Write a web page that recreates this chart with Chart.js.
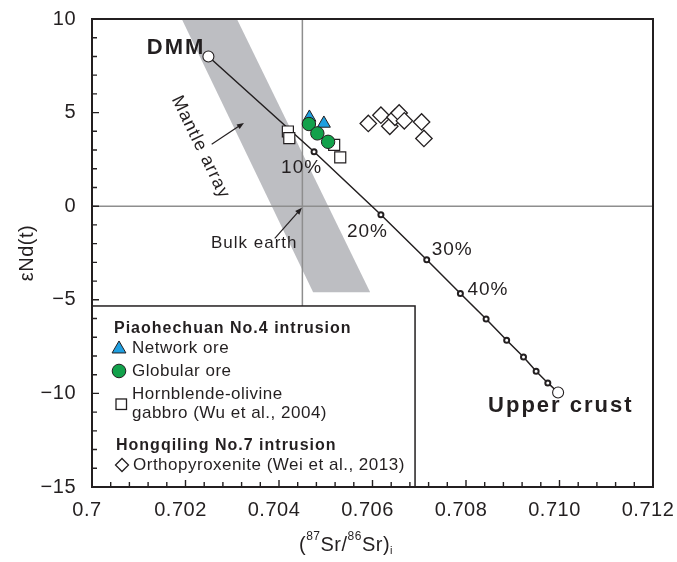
<!DOCTYPE html>
<html>
<head>
<meta charset="utf-8">
<script src="https://cdn.jsdelivr.net/npm/chart.js@4.4.1/dist/chart.umd.min.js"></script>
<style>
  html, body { margin: 0; padding: 0; background: #fff; }
</style>
</head>
<body>
<canvas id="myChart" width="677" height="562"></canvas>
<script>
const FONT = '"Liberation Sans", Arial, Helvetica, sans-serif';
const INK = '#231f20';

// axis ticks
const xTickValues = [0.7, 0.702, 0.704, 0.706, 0.708, 0.710, 0.712];
const xTickLabels = ['0.7', '0.702', '0.704', '0.706', '0.708', '0.710', '0.712'];
const yTickValues = [-15, -10, -5, 0, 5, 10];
const yTickLabels = ['\u221215', '\u221210', '\u22125', '0', '5', '10'];

// Piaohechuan No.4 intrusion
const networkX = [0.70465, 0.70496];
const networkY = [4.74, 4.42];
const globularX = [0.70464, 0.70482, 0.70505];
const globularY = [4.39, 3.89, 3.44];
const gabbroX = [0.70419, 0.70422, 0.70518, 0.70531];
const gabbroY = [3.99, 3.64, 3.28, 2.61];

// Hongqiling No.7 intrusion
const opxX = [0.70591, 0.70618, 0.70637, 0.70648, 0.70657, 0.70668, 0.70705, 0.70710];
const opxY = [4.42, 4.86, 4.27, 4.75, 4.98, 4.56, 4.50, 3.62];

// DMM - upper crust mixing curve
const mixX = [0.70249, 0.70475, 0.70618, 0.70716, 0.70788, 0.70843, 0.70887, 0.70923, 0.70950, 0.70975, 0.70997];
const mixY = [8.0, 2.91, -0.46, -2.86, -4.66, -6.03, -7.16, -8.05, -8.82, -9.44, -9.95];
const mixLabels = ['DMM', '10%', '20%', '30%', '40%', '', '', '', '', '', 'Upper crust'];

// mantle array band
const bandX = [0.70192, 0.70310, 0.70595, 0.70473, 0.70192];
const bandY = [10, 10, -4.6, -4.6, 10];

// bulk earth
const bulkSr = 0.7045;
const bulkNd = 0;

const pts = (xs, ys) => xs.map((x, i) => ({ x: x, y: ys[i] }));

function arrow(ctx, x1, y1, x2, y2) {
  const a = Math.atan2(y2 - y1, x2 - x1);
  const h = 7, w = 2.8;
  ctx.beginPath();
  ctx.moveTo(x1, y1);
  ctx.lineTo(x2 - Math.cos(a) * h * 0.7, y2 - Math.sin(a) * h * 0.7);
  ctx.stroke();
  ctx.beginPath();
  ctx.moveTo(x2, y2);
  ctx.lineTo(x2 - h * Math.cos(a) + w * Math.sin(a), y2 - h * Math.sin(a) - w * Math.cos(a));
  ctx.lineTo(x2 - h * Math.cos(a) - w * Math.sin(a), y2 - h * Math.sin(a) + w * Math.cos(a));
  ctx.closePath();
  ctx.fill();
}

const decor = {
  id: 'decor',
  beforeDraw(chart) {
    chart.ctx.letterSpacing = '0.5px';
  },
  afterDatasetsDraw(chart) {
    const ctx = chart.ctx, xs = chart.scales.x, ys = chart.scales.y, ca = chart.chartArea;
    const P = (x, y) => [xs.getPixelForValue(x), ys.getPixelForValue(y)];
    ctx.save();
    ctx.fillStyle = INK;
    ctx.strokeStyle = INK;
    ctx.textBaseline = 'middle';

    // end members
    ctx.font = 'bold 22px ' + FONT;
    ctx.letterSpacing = '2px';
    let [x0, y0] = P(mixX[0], mixY[0]);
    ctx.textAlign = 'right';
    ctx.fillText(mixLabels[0], x0 - 3, y0 - 9);
    const last = mixX.length - 1;
    [x0, y0] = P(mixX[last], mixY[last]);
    ctx.textAlign = 'left';
    ctx.fillText(mixLabels[last], x0 - 70, y0 + 13);

    // percentages
    ctx.font = '19px ' + FONT;
    ctx.letterSpacing = '1px';
    const offs = { 1: [-33, 16], 2: [-34, 17], 3: [5, -10], 4: [7, -3.5] };
    for (const k in offs) {
      [x0, y0] = P(mixX[k], mixY[k]);
      ctx.fillText(mixLabels[k], x0 + offs[k][0], y0 + offs[k][1]);
    }

    // mantle array label
    const [bx1, by1] = P(bandX[1], bandY[1]);
    const [bx2, by2] = P(bandX[2], bandY[2]);
    const ang = Math.atan2(by2 - by1, bx2 - bx1);
    [x0, y0] = P(0.70232, 3.15);
    ctx.save();
    ctx.translate(x0, y0);
    ctx.rotate(ang);
    ctx.textAlign = 'center';
    ctx.font = '18px ' + FONT;
    ctx.fillText('Mantle array', 0, 0);
    ctx.restore();
    ctx.lineWidth = 1.2;
    let a = P(0.70256, 3.31), b = P(0.70325, 4.45);
    arrow(ctx, a[0], a[1], b[0], b[1]);

    // bulk earth label
    ctx.font = '17px ' + FONT;
    ctx.textAlign = 'center';
    [x0, y0] = P(0.70347, -1.97);
    ctx.fillText('Bulk earth', x0, y0);
    a = P(0.70391, -1.72); b = P(0.70449, -0.08);
    arrow(ctx, a[0], a[1], b[0], b[1]);

    // legend box
    const [rx, ty] = P(0.70691, -5.33);
    const L = ca.left, T = ty;
    ctx.fillStyle = '#fff';
    ctx.fillRect(L, T, rx - L, ca.bottom - T);
    ctx.lineWidth = 1.5;
    ctx.strokeStyle = INK;
    ctx.strokeRect(L, T, rx - L, ca.bottom - T);

    ctx.fillStyle = INK;
    ctx.textAlign = 'left';
    ctx.font = 'bold 16px ' + FONT;
    ctx.letterSpacing = '1px';
    ctx.fillText('Piaohechuan No.4 intrusion', L + 22, T + 23);
    ctx.fillText('Hongqiling No.7 intrusion', L + 24, T + 140);
    ctx.font = '17px ' + FONT;
    ctx.letterSpacing = '0.5px';
    ctx.fillText('Network ore', L + 40, T + 42);
    ctx.fillText('Globular ore', L + 40, T + 65);
    ctx.fillText('Hornblende-olivine', L + 40, T + 88);
    ctx.fillText('gabbro (Wu et al., 2004)', L + 40, T + 107);
    ctx.fillText('Orthopyroxenite (Wei et al., 2013)', L + 41, T + 159);

    ctx.lineWidth = 1;
    // triangle
    let cx = L + 27, cy = T + 43, r = 8;
    ctx.beginPath();
    ctx.moveTo(cx, cy - r);
    ctx.lineTo(cx + r * 0.866, cy + r * 0.5);
    ctx.lineTo(cx - r * 0.866, cy + r * 0.5);
    ctx.closePath();
    ctx.fillStyle = '#1f9fe0';
    ctx.fill(); ctx.stroke();
    // circle
    cx = L + 27; cy = T + 65;
    ctx.beginPath();
    ctx.arc(cx, cy, 6.8, 0, Math.PI * 2);
    ctx.fillStyle = '#12a14b';
    ctx.fill(); ctx.stroke();
    // square
    ctx.lineWidth = 1.3;
    ctx.fillStyle = '#fff';
    ctx.fillRect(L + 24, T + 93, 10.5, 10.5);
    ctx.strokeRect(L + 24, T + 93, 10.5, 10.5);
    // diamond
    cx = L + 30; cy = T + 159; r = 6.5;
    ctx.beginPath();
    ctx.moveTo(cx, cy - r); ctx.lineTo(cx + r, cy); ctx.lineTo(cx, cy + r); ctx.lineTo(cx - r, cy);
    ctx.closePath();
    ctx.fill(); ctx.stroke();
    ctx.restore();
  },
  afterDraw(chart) {
    const ctx = chart.ctx, xs = chart.scales.x, ys = chart.scales.y, ca = chart.chartArea;
    ctx.save();
    ctx.strokeStyle = INK;
    ctx.lineWidth = 1.4;
    ctx.beginPath();
    for (let k = 0; k <= 30; k++) {
      const x = xs.getPixelForValue(0.7 + k * 0.0004);
      const len = k % 5 === 0 ? 7 : 5;
      ctx.moveTo(x, ca.bottom);
      ctx.lineTo(x, ca.bottom - len);
    }
    for (let k = -15; k <= 10; k++) {
      const y = ys.getPixelForValue(k);
      const len = k % 5 === 0 ? 7 : 5;
      ctx.moveTo(ca.left, y);
      ctx.lineTo(ca.left + len, y);
    }
    ctx.stroke();
    ctx.lineWidth = 2;
    ctx.strokeRect(ca.left, ca.top, ca.right - ca.left, ca.bottom - ca.top);

    // x axis title with super/subscripts
    const parts = [
      ['(', 20, 0], ['87', 12, -8], ['Sr/', 20, 0], ['86', 12, -8], ['Sr)', 20, 0], ['i', 11, 6]
    ];
    ctx.letterSpacing = '0.5px';
    let total = 0;
    for (const p of parts) { ctx.font = p[1] + 'px ' + FONT; total += ctx.measureText(p[0]).width; }
    let x = 346 - total / 2;
    const y = 545;
    ctx.fillStyle = INK;
    ctx.textBaseline = 'middle';
    ctx.textAlign = 'left';
    for (const p of parts) {
      ctx.font = p[1] + 'px ' + FONT;
      ctx.fillText(p[0], x, y + p[2]);
      x += ctx.measureText(p[0]).width;
    }
    ctx.restore();
  }
};

Chart.defaults.font.family = FONT;
Chart.defaults.color = INK;

const data = {
  datasets: [
    {
      label: 'Globular ore',
      data: pts(globularX, globularY),
      pointStyle: 'circle', pointRadius: 6.7,
      backgroundColor: '#12a14b', borderColor: INK, borderWidth: 1,
      order: 0
    },
    {
      label: 'Network ore',
      data: pts(networkX, networkY),
      pointStyle: 'triangle', pointRadius: 7.5,
      backgroundColor: '#1f9fe0', borderColor: INK, borderWidth: 1,
      order: 1
    },
    {
      label: 'Hornblende-olivine gabbro',
      data: pts(gabbroX, gabbroY),
      pointStyle: 'rect', pointRadius: 7.8,
      backgroundColor: '#fff', borderColor: INK, borderWidth: 1.2,
      order: 2
    },
    {
      label: 'Orthopyroxenite',
      data: pts(opxX, opxY),
      pointStyle: 'rectRot', pointRadius: 8.2,
      backgroundColor: '#fff', borderColor: INK, borderWidth: 1.3,
      order: 3
    },
    {
      type: 'line',
      label: 'Mixing',
      data: pts(mixX, mixY),
      borderColor: INK, borderWidth: 1.5,
      pointRadius: mixX.map((v, i) => (i === 0 || i === mixX.length - 1) ? 5.5 : 2.5),
      pointBorderWidth: mixX.map((v, i) => (i === 0 || i === mixX.length - 1) ? 1.1 : 2),
      pointBackgroundColor: '#fff', pointBorderColor: INK,
      tension: 0, order: 4
    },
    {
      type: 'line',
      label: 'Bulk earth Sr',
      data: [{ x: bulkSr, y: 10 }, { x: bulkSr, y: -15 }],
      borderColor: '#8e8e8e', borderWidth: 1.5, pointRadius: 0,
      order: 5
    },
    {
      type: 'line',
      label: 'Bulk earth Nd',
      data: [{ x: 0.7, y: bulkNd }, { x: 0.712, y: bulkNd }],
      borderColor: '#8e8e8e', borderWidth: 1.5, pointRadius: 0,
      order: 5
    },
    {
      type: 'line',
      label: 'Mantle array',
      data: pts(bandX, bandY),
      fill: 'shape',
      backgroundColor: '#bdbec2', borderColor: '#bdbec2', borderWidth: 0,
      pointRadius: 0, order: 6
    }
  ]
};

const config = {
  type: 'scatter',
  data,
  options: {
    responsive: false,
    animation: false,
    layout: { padding: 0 },
    plugins: {
      legend: { display: false },
      tooltip: { enabled: false }
    },
    scales: {
      x: {
        type: 'linear', min: 0.7, max: 0.712,
        afterBuildTicks: s => { s.ticks = xTickValues.map(v => ({ value: v })); },
        afterFit: s => { s.height = 75; s.paddingLeft = 0; s.paddingRight = 24; },
        ticks: {
          callback: (v, i) => xTickLabels[i],
          font: { size: 20 }, color: INK, padding: 11, labelOffset: -5,
          maxRotation: 0, autoSkip: false
        },
        grid: { display: false, drawTicks: false },
        border: { display: false }
      },
      y: {
        type: 'linear', min: -15, max: 10,
        afterBuildTicks: s => { s.ticks = yTickValues.map(v => ({ value: v })); },
        afterFit: s => { s.width = 92; s.paddingTop = 19; s.paddingBottom = 0; },
        ticks: {
          callback: (v, i) => yTickLabels[i],
          font: { size: 20 }, color: INK, padding: 16
        },
        title: {
          display: true, text: '\u03b5Nd(t)',
          font: { size: 20 }, color: INK, padding: { top: 15, bottom: 4 }
        },
        grid: { display: false, drawTicks: false },
        border: { display: false }
      }
    }
  },
  plugins: [decor]
};

const myChart = new Chart(document.getElementById('myChart'), config);
</script>
</body>
</html>
